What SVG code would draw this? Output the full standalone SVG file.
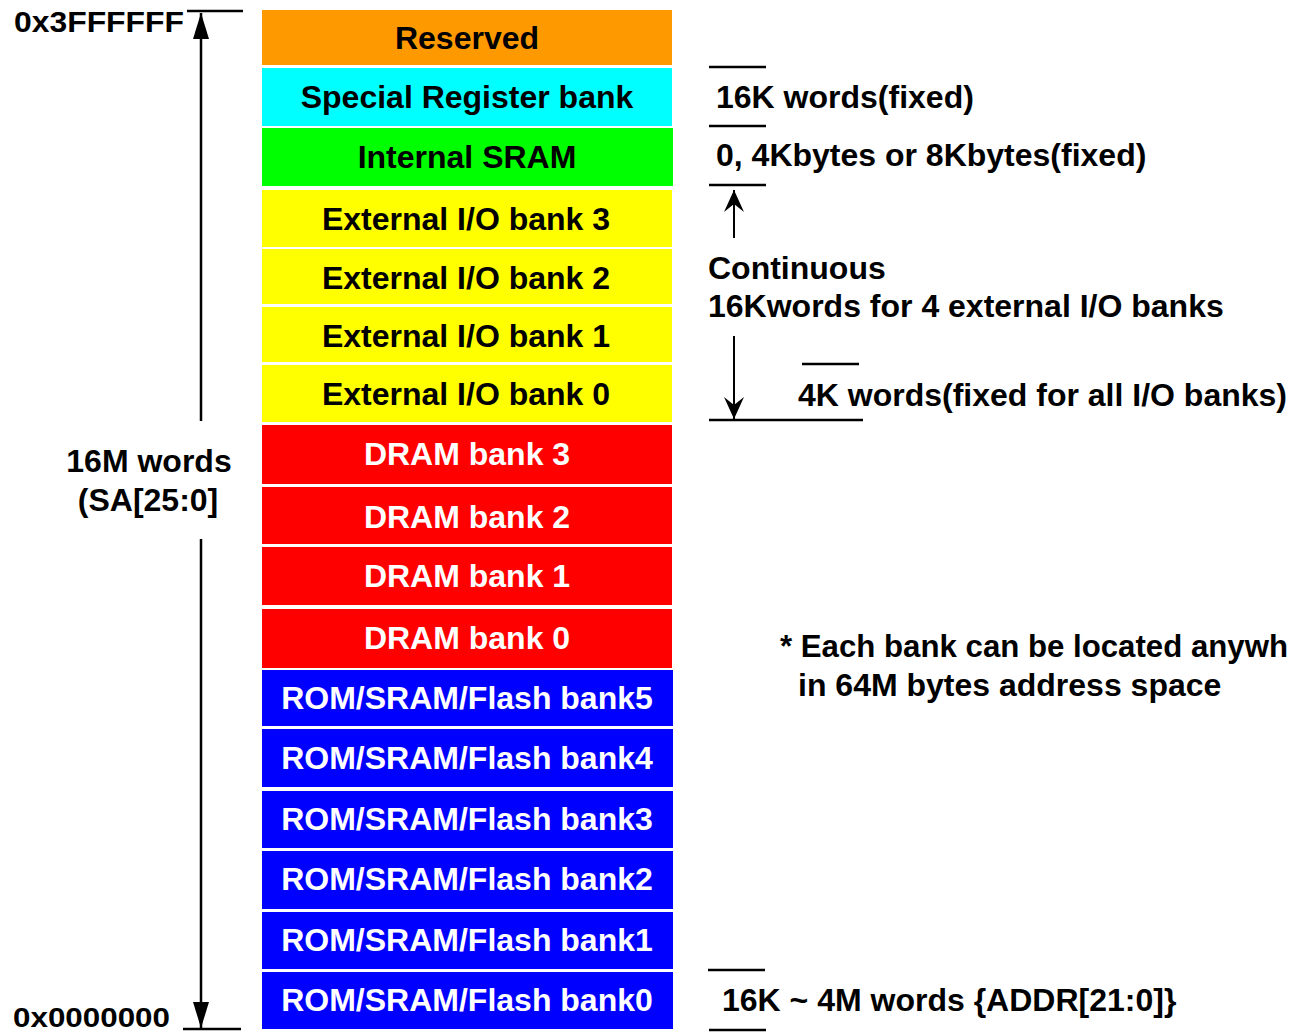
<svg xmlns="http://www.w3.org/2000/svg" width="1292" height="1032" viewBox="0 0 1292 1032">
<style>
text { font-family: "Liberation Sans", Arial, sans-serif; font-weight: bold; font-size: 32px; }
.c { text-anchor: middle; }
.k { fill: #000000; }
.w { fill: #FFFFFF; }
.ln { stroke: #000000; stroke-width: 2.5; fill: none; }
.ln2 { stroke: #000000; stroke-width: 2; fill: none; }
.or { fill: #FF9900; }
.cy { fill: #00FFFF; }
.gr { fill: #00FF00; }
.ye { fill: #FFFF00; }
.rd { fill: #FF0000; }
.bl { fill: #0000FF; }
</style>
<defs>
<marker id="bigHead" markerUnits="userSpaceOnUse" markerWidth="28" markerHeight="18" viewBox="0 0 28 18" refX="26" refY="9" orient="auto">
<polygon points="26,9 0,1 0,17" fill="#000000"/>
</marker>
<marker id="smallHead" markerUnits="userSpaceOnUse" markerWidth="24" markerHeight="22" viewBox="0 0 24 22" refX="22" refY="11" orient="auto">
<polygon points="22,11 0,1 8,11 0,21" fill="#000000"/>
</marker>
</defs>

<g id="reserved"><rect class="or" x="262" y="10" width="410" height="55"/><text class="c k" x="467" y="49">Reserved</text></g>
<g id="special-register-bank"><rect class="cy" x="262" y="68" width="410" height="58"/><text class="c k" x="467" y="108">Special Register bank</text></g>
<g id="internal-sram"><rect class="gr" x="262" y="128" width="411" height="58"/><text class="c k" x="467" y="168">Internal SRAM</text></g>
<g id="ext-io-3"><rect class="ye" x="262" y="190" width="410" height="57"/><text class="c k" x="466" y="230">External I/O bank 3</text></g>
<g id="ext-io-2"><rect class="ye" x="262" y="249" width="410" height="55"/><text class="c k" x="466" y="289">External I/O bank 2</text></g>
<g id="ext-io-1"><rect class="ye" x="262" y="307" width="410" height="55"/><text class="c k" x="466" y="347">External I/O bank 1</text></g>
<g id="ext-io-0"><rect class="ye" x="262" y="365" width="410" height="57"/><text class="c k" x="466" y="405">External I/O bank 0</text></g>
<g id="dram-3"><rect class="rd" x="262" y="425" width="410" height="59"/><text class="c w" x="467" y="465">DRAM bank 3</text></g>
<g id="dram-2"><rect class="rd" x="262" y="487" width="410" height="57"/><text class="c w" x="467" y="528">DRAM bank 2</text></g>
<g id="dram-1"><rect class="rd" x="262" y="547" width="410" height="58"/><text class="c w" x="467" y="587">DRAM bank 1</text></g>
<g id="dram-0"><rect class="rd" x="262" y="609" width="410" height="59"/><text class="c w" x="467" y="649">DRAM bank 0</text></g>
<g id="rom-5"><rect class="bl" x="262" y="670" width="411" height="56"/><text class="c w" x="467" y="709">ROM/SRAM/Flash bank5</text></g>
<g id="rom-4"><rect class="bl" x="262" y="729" width="411" height="58"/><text class="c w" x="467" y="769">ROM/SRAM/Flash bank4</text></g>
<g id="rom-3"><rect class="bl" x="262" y="791" width="411" height="57"/><text class="c w" x="467" y="830">ROM/SRAM/Flash bank3</text></g>
<g id="rom-2"><rect class="bl" x="262" y="851" width="411" height="58"/><text class="c w" x="467" y="890">ROM/SRAM/Flash bank2</text></g>
<g id="rom-1"><rect class="bl" x="262" y="912" width="411" height="57"/><text class="c w" x="467" y="951">ROM/SRAM/Flash bank1</text></g>
<g id="rom-0"><rect class="bl" x="262" y="972" width="411" height="57"/><text class="c w" x="467" y="1011">ROM/SRAM/Flash bank0</text></g>

<g id="labels">
<text class="k" x="14" y="32" style="font-size:29px" textLength="170" lengthAdjust="spacingAndGlyphs">0x3FFFFFF</text>
<text class="k" x="13" y="1027" style="font-size:28px" textLength="157" lengthAdjust="spacingAndGlyphs">0x0000000</text>
<text class="c k" x="149" y="472">16M words</text>
<text class="c k" x="148" y="511">(SA[25:0]</text>
<text class="k" x="716" y="108">16K words(fixed)</text>
<text class="k" x="716" y="166">0, 4Kbytes or 8Kbytes(fixed)</text>
<text class="k" x="708" y="279">Continuous</text>
<text class="k" x="708" y="317">16Kwords for 4 external I/O banks</text>
<text class="k" x="798" y="406">4K words(fixed for all I/O banks)</text>
<text class="k" x="780" y="657" textLength="508" lengthAdjust="spacingAndGlyphs">* Each bank can be located anywh</text>
<text class="k" x="798" y="696">in 64M bytes address space</text>
<text class="k" x="722" y="1011">16K ~ 4M words {ADDR[21:0]}</text>
</g>

<g id="connectors">
<line class="ln" x1="187" y1="11" x2="243" y2="11"/>
<line class="ln" x1="183" y1="1029" x2="241" y2="1029"/>
<line class="ln" x1="201" y1="421" x2="201" y2="13" marker-end="url(#bigHead)"/>
<line class="ln" x1="201" y1="539" x2="201" y2="1028" marker-end="url(#bigHead)"/>
<line class="ln" x1="709" y1="67" x2="766" y2="67"/>
<line class="ln" x1="709" y1="126" x2="766" y2="126"/>
<line class="ln" x1="709" y1="185" x2="766" y2="185"/>
<line class="ln2" x1="734" y1="238" x2="734" y2="190" marker-end="url(#smallHead)"/>
<line class="ln2" x1="734" y1="336" x2="734" y2="419" marker-end="url(#smallHead)"/>
<line class="ln" x1="802" y1="364" x2="859" y2="364"/>
<line class="ln" x1="709" y1="420" x2="863" y2="420"/>
<line class="ln" x1="708" y1="970" x2="765" y2="970"/>
<line class="ln" x1="709" y1="1030" x2="766" y2="1030"/>
</g>
</svg>
